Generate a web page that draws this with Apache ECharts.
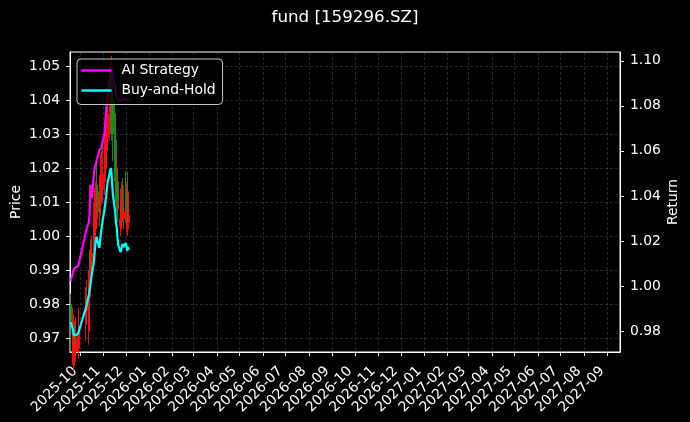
<!DOCTYPE html>
<html><head><meta charset="utf-8">
<script src="https://cdn.jsdelivr.net/npm/echarts@6/dist/echarts.min.js"></script>
<style>html,body{margin:0;padding:0;background:#000;}#c{width:690px;height:422px;}</style>
</head><body><div id="c"></div>
<script>
const dates = ['2025-09-19','2025-09-22','2025-09-23','2025-09-24','2025-09-25','2025-09-26','2025-09-29','2025-09-30',
 '2025-10-09','2025-10-10','2025-10-13','2025-10-14','2025-10-15','2025-10-16','2025-10-17','2025-10-20','2025-10-21','2025-10-22','2025-10-23','2025-10-24','2025-10-27','2025-10-28','2025-10-29','2025-10-30','2025-10-31',
 '2025-11-03','2025-11-04','2025-11-05','2025-11-06','2025-11-07','2025-11-10','2025-11-11','2025-11-12','2025-11-13','2025-11-14','2025-11-17','2025-11-18','2025-11-19','2025-11-20','2025-11-21','2025-11-24','2025-11-25','2025-11-26','2025-11-27','2025-11-28',
 '2025-12-01','2025-12-02','2025-12-03','2025-12-04','2025-12-05'];
const openP  = [0.980,0.966,0.964,0.965,0.974,0.966,0.966,0.967, 0.974,0.978,0.972,0.982,0.996,0.990,0.992,0.994,1.000,1.003,1.005,1.015,1.013,1.006,1.010,1.012,1.014, 1.016,1.020,1.024,1.026,1.029,1.032,1.044,1.036,1.044,1.040,1.036,1.028,1.012,1.016,1.012,1.003,1.004,1.005,1.010,1.005, 1.012,1.004,1.003,1.013,1.004];
const closeP = [0.975,0.973,0.970,0.969,0.968,0.970,0.971,0.972, 0.980,0.982,0.987,0.988,0.990,0.993,0.995,1.001,1.006,1.009,1.012,1.012,1.007,1.010,1.013,1.016,1.018, 1.024,1.027,1.030,1.033,1.036,1.040,1.042,1.040,1.034,1.030,1.023,1.018,1.016,1.011,1.008,1.005,1.006,1.008,1.009,1.007, 1.009,1.008,1.006,1.007,1.006];
const lowP   = [0.966,0.962,0.960,0.962,0.965,0.963,0.964,0.965, 0.969,0.974,0.968,0.978,0.986,0.986,0.989,0.993,0.996,1.000,1.002,1.006,1.003,1.003,1.007,1.009,1.010, 1.012,1.016,1.020,1.022,1.025,1.028,1.030,1.030,1.028,1.022,1.016,1.010,1.007,1.006,1.004,1.000,1.001,1.002,1.004,1.002, 1.005,1.001,1.000,1.004,1.002];
const highP  = [0.983,0.979,0.977,0.975,0.976,0.976,0.977,0.979, 0.985,0.987,0.990,0.994,0.999,0.998,1.000,1.010,1.014,1.016,1.020,1.022,1.016,1.018,1.024,1.025,1.027, 1.030,1.034,1.038,1.042,1.046,1.050,1.052,1.053,1.049,1.045,1.040,1.032,1.024,1.020,1.018,1.012,1.014,1.016,1.017,1.015, 1.019,1.016,1.014,1.019,1.013];
const aiStrategy = [1.0022,1.0062,1.0075,1.0080,1.0080,1.0084,1.0089,1.0093, 1.0240,1.0253,1.0284,1.0315,1.0448,1.0417,1.0391,1.0506,1.0528,1.0537,1.0551,1.0568,1.0604,1.0604,1.0604,1.0613,1.0639, 1.0679,1.0737,1.0773,1.0804,1.0835,1.0915,1.0950,1.0977,1.0959,1.0924,1.0879,1.0848,1.0835,1.0826,1.0826,1.0822,1.0826,1.0830,1.0830,1.0826, 1.0830,1.0826,1.0822,1.0826,1.0822];
const buyHold = [0.9840,0.9805,0.9782,0.9774,0.9778,0.9782,0.9791,0.9796, 0.9902,0.9916,0.9960,0.9982,1.0004,1.0027,1.0053,1.0115,1.0160,1.0195,1.0218,1.0226,1.0169,1.0204,1.0235,1.0258,1.0284, 1.0346,1.0373,1.0400,1.0435,1.0462,1.0506,1.0524,1.0506,1.0448,1.0404,1.0329,1.0284,1.0258,1.0213,1.0182,1.0151,1.0160,1.0178,1.0187,1.0173, 1.0191,1.0178,1.0155,1.0173,1.0160];
const priceTicks = [0.97,0.98,0.99,1.00,1.01,1.02,1.03,1.04,1.05];
const returnTicks = [0.98,1.00,1.02,1.04,1.06,1.08,1.10];
const monthLabels = ['2025-10','2025-11','2025-12','2026-01','2026-02','2026-03','2026-04','2026-05','2026-06','2026-07','2026-08','2026-09','2026-10','2026-11','2026-12','2027-01','2027-02','2027-03','2027-04','2027-05','2027-06','2027-07','2027-08','2027-09'];

function ts(s) { const p = s.split('-').map(Number); return Date.UTC(p[0], p[1] - 1, p[2] || 1); }
function fmtMonth(v) { const d = new Date(v); return d.getUTCFullYear() + '-' + String(d.getUTCMonth() + 1).padStart(2, '0'); }
const monthTs = monthLabels.map(ts);

const FONT = 'DejaVu Sans';
const gridLine = {show: true, lineStyle: {color: 'rgba(150,150,150,0.45)', width: 0.6, type: [3, 2]}};
const chart = echarts.init(document.getElementById('c'), null, {renderer: 'canvas'});
chart.setOption({
  backgroundColor: '#000',
  animation: false,
  textStyle: {fontFamily: FONT, color: '#fff'},
  title: {text: 'fund [159296.SZ]', left: 'center', top: 4, textStyle: {color: '#fff', fontSize: 16.7, fontWeight: 'normal', fontFamily: FONT}},
  legend: {
    left: 77, top: 59, orient: 'vertical', icon: 'rect', itemWidth: 30, itemHeight: 2.5, itemGap: 6,
    padding: [4.5, 7, 7, 4.5], backgroundColor: 'rgba(0,0,0,0.8)', borderColor: 'rgba(230,230,230,0.85)', borderWidth: 1, borderRadius: 4,
    textStyle: {color: '#fff', fontSize: 13.9, fontFamily: FONT, lineHeight: 14, padding: [0, 0, 0, 5]},
    data: ['AI Strategy', 'Buy-and-Hold']
  },
  grid: {left: 70, right: 70, top: 52, bottom: 70, show: true, borderColor: '#fff', borderWidth: 1, backgroundColor: 'transparent', outerBoundsMode: 'none', containLabel: false},
  xAxis: {
    type: 'value', min: ts('2025-09-18'), max: ts('2027-09-18'), scale: true,
    axisLine: {show: true, lineStyle: {color: '#fff', width: 1}},
    axisTick: {show: true, length: 4, lineStyle: {color: '#fff'}, customValues: monthTs},
    axisLabel: {color: '#fff', fontSize: 13.9, fontFamily: FONT, rotate: 45, margin: 12, hideOverlap: false,
      padding: [0, 7, 0, 0], customValues: monthTs, formatter: fmtMonth},
    splitLine: gridLine
  },
  yAxis: [{
    type: 'value', position: 'left', min: 0.9659, max: 1.0541, name: 'Price', nameLocation: 'middle', nameGap: 47, nameRotate: 90,
    nameMoveOverlap: false,
    nameTextStyle: {color: '#fff', fontSize: 13.9, fontFamily: FONT},
    axisLine: {show: true, lineStyle: {color: '#fff'}},
    axisTick: {show: true, length: 4, lineStyle: {color: '#fff'}, customValues: priceTicks},
    axisLabel: {color: '#fff', fontSize: 13.9, fontFamily: FONT, margin: 10, customValues: priceTicks, formatter: v => v.toFixed(2)},
    splitLine: gridLine
  }, {
    type: 'value', position: 'right', min: 0.9707, max: 1.1039, name: 'Return', nameLocation: 'middle', nameGap: 46, nameRotate: 90,
    nameMoveOverlap: false,
    nameTextStyle: {color: '#fff', fontSize: 13.9, fontFamily: FONT},
    axisLine: {show: true, lineStyle: {color: '#fff'}},
    axisTick: {show: true, length: 4, lineStyle: {color: '#fff'}, customValues: returnTicks},
    axisLabel: {color: '#fff', fontSize: 13.9, fontFamily: FONT, margin: 10, customValues: returnTicks, formatter: v => v.toFixed(2)},
    splitLine: {show: false}
  }],
  series: [{
    type: 'candlestick', name: 'Price', yAxisIndex: 0, barWidth: 1.8, clip: true,
    encode: {x: 0, y: [1, 2, 3, 4]},
    itemStyle: {color: '#ff1010', color0: '#1f8f1f', borderColor: '#ff1010', borderColor0: '#1f8f1f', borderWidth: 1, opacity: 0.9},
    data: dates.map((d, i) => [ts(d), openP[i], closeP[i], lowP[i], highP[i]])
  }, {
    type: 'line', name: 'AI Strategy', yAxisIndex: 1, showSymbol: false, symbol: 'none', clip: true,
    lineStyle: {color: '#ff00ff', width: 2.2}, itemStyle: {color: '#ff00ff'},
    data: dates.map((d, i) => [ts(d), aiStrategy[i]])
  }, {
    type: 'line', name: 'Buy-and-Hold', yAxisIndex: 1, showSymbol: false, symbol: 'none', clip: true,
    lineStyle: {color: '#00ffff', width: 2.2}, itemStyle: {color: '#00ffff'},
    data: dates.map((d, i) => [ts(d), buyHold[i]])
  }]
});
</script></body></html>
